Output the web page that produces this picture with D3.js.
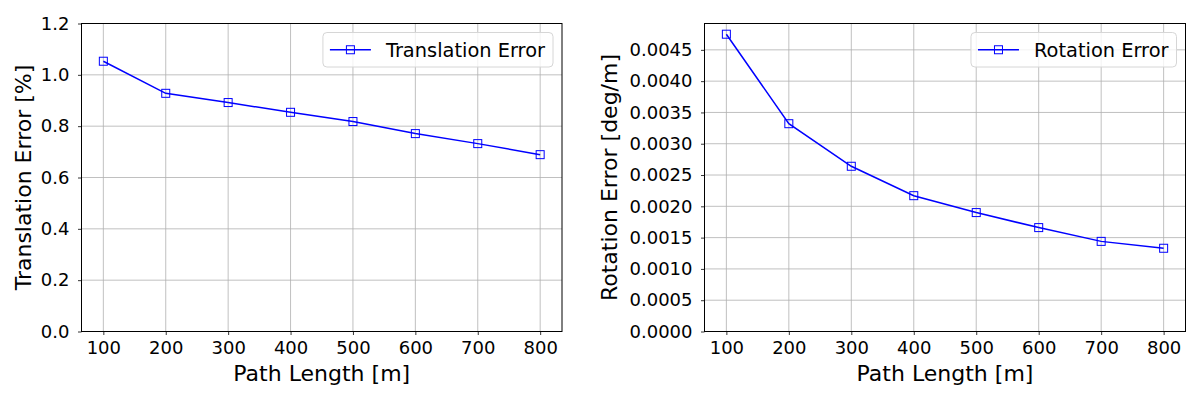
<!DOCTYPE html>
<html>
<head>
<meta charset="utf-8">
<script src="https://cdn.jsdelivr.net/npm/d3@7"></script>
<style>
  body { margin: 0; background: #fff; }
  text { font-family: 'DejaVu Sans', sans-serif; fill: #000; }
</style>
</head>
<body>
<script>
const width = 1200
const height = 400

const pathLengths = [100, 200, 300, 400, 500, 600, 700, 800]
const translationError = [1.053, 0.928, 0.892, 0.854, 0.818, 0.771, 0.732, 0.689]
const rotationError = [0.00475, 0.00332, 0.00264, 0.00217, 0.00190, 0.00166, 0.00144, 0.00133]

const translationTicks = [0, 0.2, 0.4, 0.6, 0.8, 1.0, 1.2]
const rotationTicks = [0, 0.0005, 0.001, 0.0015, 0.002, 0.0025, 0.003, 0.0035, 0.004, 0.0045]

let svg = d3.select('body').append('svg')
  .attr('width', width)
  .attr('height', height)

function drawPanel (opts) {
  const { left, right, top, bottom, values, yMax, yTicks, yFormat, yLabel, yLabelX, legend } = opts

  let x = d3.scaleLinear().domain([65, 835]).range([left, right])
  let y = d3.scaleLinear().domain([0, yMax]).range([bottom, top])

  let g = svg.append('g')

  // grid
  g.append('g').selectAll('line')
    .data(pathLengths)
    .enter()
    .append('line')
    .attr('x1', (d) => x(d)).attr('x2', (d) => x(d))
    .attr('y1', top).attr('y2', bottom)
    .attr('stroke', '#b0b0b0').attr('stroke-width', 0.8)

  g.append('g').selectAll('line')
    .data(yTicks)
    .enter()
    .append('line')
    .attr('x1', left).attr('x2', right)
    .attr('y1', (d) => y(d)).attr('y2', (d) => y(d))
    .attr('stroke', '#b0b0b0').attr('stroke-width', 0.8)

  // axes
  let xAxis = g.append('g')
    .attr('transform', `translate(0,${bottom})`)
    .call(d3.axisBottom(x).tickValues(pathLengths).tickSize(3.5).tickPadding(6.5).tickFormat(d3.format('d')))
  let yAxis = g.append('g')
    .attr('transform', `translate(${left},0)`)
    .call(d3.axisLeft(y).tickValues(yTicks).tickSize(3.5).tickPadding(8.5).tickFormat(d3.format(yFormat)))

  ;[xAxis, yAxis].forEach((a) => {
    a.select('.domain').remove()
    a.selectAll('.tick line').attr('stroke', '#000').attr('stroke-width', 0.8)
    a.selectAll('.tick text')
      .style('font-family', 'DejaVu Sans')
      .style('font-size', '18px')
      .attr('fill', '#000')
  })

  g.append('rect')
    .attr('x', left).attr('y', top)
    .attr('width', right - left).attr('height', bottom - top)
    .attr('fill', 'none').attr('stroke', '#000').attr('stroke-width', 1)

  // series
  let line = d3.line()
    .x((d, i) => x(pathLengths[i]))
    .y((d) => y(d))

  g.append('path')
    .datum(values)
    .attr('d', line)
    .attr('fill', 'none')
    .attr('stroke', '#0000ff')
    .attr('stroke-width', 1.5)

  g.append('g').selectAll('rect')
    .data(values)
    .enter()
    .append('rect')
    .attr('x', (d, i) => x(pathLengths[i]) - 4)
    .attr('y', (d) => y(d) - 4)
    .attr('width', 8).attr('height', 8)
    .attr('fill', 'none')
    .attr('stroke', '#0000ff')
    .attr('stroke-width', 1)

  // labels
  g.append('text')
    .attr('x', (left + right) / 2)
    .attr('y', 381)
    .attr('text-anchor', 'middle')
    .style('font-size', '22px')
    .text('Path Length [m]')

  g.append('text')
    .attr('transform', `translate(${yLabelX},${(top + bottom) / 2}) rotate(-90)`)
    .attr('text-anchor', 'middle')
    .style('font-size', '22px')
    .text(yLabel)

  // legend
  let lg = g.append('g')
  let box = lg.append('rect')
  let txt = lg.append('text')
    .style('font-size', '19.4px')
    .text(legend)
  let tw = txt.node().getComputedTextLength()
  let bw = 63 + tw + 8
  let bx = right - 9 - bw
  let by = top + 9
  let bh = 34.5
  box.attr('x', bx).attr('y', by)
    .attr('width', bw).attr('height', bh)
    .attr('rx', 4)
    .attr('fill', '#fff').attr('fill-opacity', 0.8)
    .attr('stroke', '#d6d6d6').attr('stroke-width', 1)
  txt.attr('x', bx + 63).attr('y', by + bh / 2 + 6.8)
  lg.append('line')
    .attr('x1', bx + 7).attr('x2', bx + 48)
    .attr('y1', by + bh / 2).attr('y2', by + bh / 2)
    .attr('stroke', '#0000ff').attr('stroke-width', 1.5)
  lg.append('rect')
    .attr('x', bx + 27.5 - 4).attr('y', by + bh / 2 - 4)
    .attr('width', 8).attr('height', 8)
    .attr('fill', 'none').attr('stroke', '#0000ff').attr('stroke-width', 1)
}

const rotMax = d3.max(rotationError) + 0.05 * (d3.max(rotationError) - d3.min(rotationError))

drawPanel({
  left: 81.5, right: 562, top: 23.5, bottom: 331.5,
  values: translationError,
  yMax: 1.2,
  yTicks: translationTicks,
  yFormat: '.1f',
  yLabel: 'Translation Error [%]',
  yLabelX: 31,
  legend: 'Translation Error'
})

drawPanel({
  left: 704.5, right: 1185.5, top: 23.5, bottom: 331.5,
  values: rotationError,
  yMax: rotMax,
  yTicks: rotationTicks,
  yFormat: '.4f',
  yLabel: 'Rotation Error [deg/m]',
  yLabelX: 617,
  legend: 'Rotation Error'
})
</script>
</body>
</html>
